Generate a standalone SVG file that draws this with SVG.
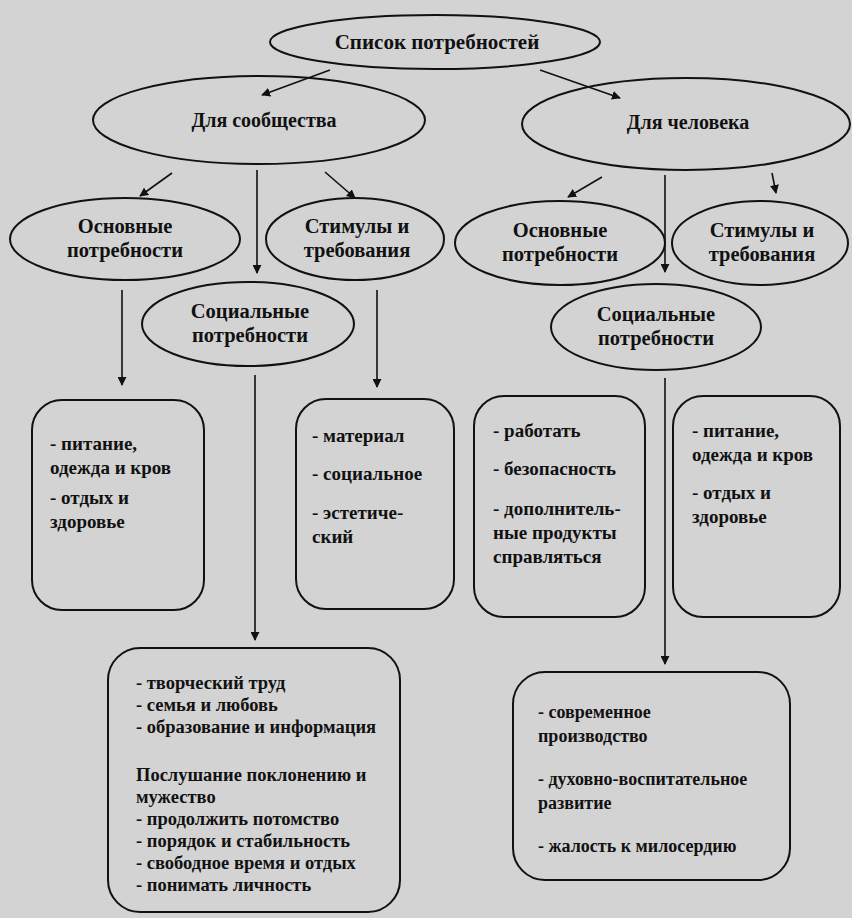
<svg xmlns="http://www.w3.org/2000/svg" width="852" height="918" viewBox="0 0 852 918">
<defs>
<marker id="ah" viewBox="0 0 10 10" refX="9" refY="5" markerWidth="9" markerHeight="9" markerUnits="userSpaceOnUse" orient="auto">
<path d="M0,0 L10,5 L0,10 z" fill="#111"/>
</marker>
<style>
.n{fill:none;stroke:#111;stroke-width:2}
.t{font-family:"Liberation Serif","Times New Roman",serif;font-weight:bold;fill:#111;font-size:19px}
.c{text-anchor:middle}
.h{font-size:21px}
.g{font-size:20px}
.m{font-size:20.5px}
.e{font-size:18.5px}
.f{font-size:18px}
.l{stroke:#111;stroke-width:1.6;fill:none;marker-end:url(#ah)}
</style>
</defs>
<rect width="852" height="918" fill="#d3d3d3"/>
<g id="root"><ellipse class="n" cx="435" cy="42" rx="165" ry="27"/><text class="t c h" x="437" y="49">Список потребностей</text></g>
<g id="soc"><ellipse class="n" cx="259" cy="120" rx="166" ry="44"/><text class="t c g" x="264" y="127">Для сообщества</text></g>
<g id="hum"><ellipse class="n" cx="686" cy="124" rx="164" ry="46"/><text class="t c g" x="688" y="129">Для человека</text></g>
<g id="osn1"><ellipse class="n" cx="125" cy="239" rx="115" ry="41"/><text class="t c m" x="125" y="233">Основные</text><text class="t c m" x="125" y="257">потребности</text></g>
<g id="stim1"><ellipse class="n" cx="355" cy="239" rx="89" ry="41"/><text class="t c m" x="357" y="233">Стимулы и</text><text class="t c m" x="357" y="257">требования</text></g>
<g id="osn2"><ellipse class="n" cx="560" cy="243" rx="105" ry="42"/><text class="t c m" x="560" y="237">Основные</text><text class="t c m" x="560" y="261">потребности</text></g>
<g id="stim2"><ellipse class="n" cx="760" cy="243" rx="88" ry="42"/><text class="t c m" x="762" y="237">Стимулы и</text><text class="t c m" x="762" y="261">требования</text></g>
<g id="socn1"><ellipse class="n" cx="248" cy="324" rx="106" ry="42"/><text class="t c m" x="250" y="318">Социальные</text><text class="t c m" x="250" y="342">потребности</text></g>
<g id="socn2"><ellipse class="n" cx="656" cy="327" rx="105" ry="43"/><text class="t c m" x="656" y="321">Социальные</text><text class="t c m" x="656" y="345">потребности</text></g>
<g id="box1"><rect class="n" x="32" y="400" width="172" height="210" rx="30"/>
<text class="t" x="50" y="450">- питание,</text><text class="t" x="50" y="474">одежда и кров</text><text class="t" x="50" y="504">- отдых и</text><text class="t" x="50" y="528">здоровье</text></g>
<g id="box2"><rect class="n" x="296" y="399" width="158" height="210" rx="30"/>
<text class="t" x="312" y="442">- материал</text><text class="t" x="312" y="480">- социальное</text><text class="t" x="312" y="519">- эстетиче-</text><text class="t" x="312" y="543">ский</text></g>
<g id="box3"><rect class="n" x="474" y="396" width="171" height="221" rx="30"/>
<text class="t" x="493" y="437">- работать</text><text class="t" x="493" y="475">- безопасность</text><text class="t" x="493" y="515">- дополнитель-</text><text class="t" x="493" y="539">ные продукты</text><text class="t" x="493" y="563">справляться</text></g>
<g id="box4"><rect class="n" x="673" y="396" width="167" height="221" rx="30"/>
<text class="t" x="692" y="437">- питание,</text><text class="t" x="692" y="461">одежда и кров</text><text class="t" x="692" y="499">- отдых и</text><text class="t" x="692" y="523">здоровье</text></g>
<g id="box5"><rect class="n" x="108" y="648" width="292" height="264" rx="32"/>
<text class="t e" x="136" y="689">- творческий труд</text><text class="t e" x="136" y="711">- семья и любовь</text><text class="t e" x="136" y="733">- образование и информация</text>
<text class="t e" x="136" y="781">Послушание поклонению и</text><text class="t e" x="136" y="803">мужество</text><text class="t e" x="136" y="825">- продолжить потомство</text><text class="t e" x="136" y="847">- порядок и стабильность</text><text class="t e" x="136" y="869">- свободное время и отдых</text><text class="t e" x="136" y="891">- понимать личность</text></g>
<g id="box6"><rect class="n" x="513" y="672" width="277" height="208" rx="32"/>
<text class="t f" x="538" y="718">- современное</text><text class="t f" x="538" y="742">производство</text><text class="t f" x="538" y="785">- духовно-воспитательное</text><text class="t f" x="538" y="809">развитие</text><text class="t f" x="538" y="852">- жалость к милосердию</text></g>
<g id="connectors">
<line class="l" x1="330" y1="70" x2="262" y2="95"/>
<line class="l" x1="540" y1="70" x2="620" y2="98"/>
<line class="l" x1="172" y1="173" x2="140" y2="196"/>
<line class="l" x1="257" y1="170" x2="257" y2="273"/>
<line class="l" x1="325" y1="172" x2="355" y2="198"/>
<line class="l" x1="602" y1="177" x2="568" y2="197"/>
<line class="l" x1="665" y1="175" x2="665" y2="272"/>
<line class="l" x1="772" y1="173" x2="776" y2="193"/>
<line class="l" x1="122" y1="290" x2="122" y2="385"/>
<line class="l" x1="377" y1="290" x2="377" y2="387"/>
<line class="l" x1="255" y1="375" x2="255" y2="640"/>
<line class="l" x1="665" y1="378" x2="665" y2="664"/>
</g>
</svg>
